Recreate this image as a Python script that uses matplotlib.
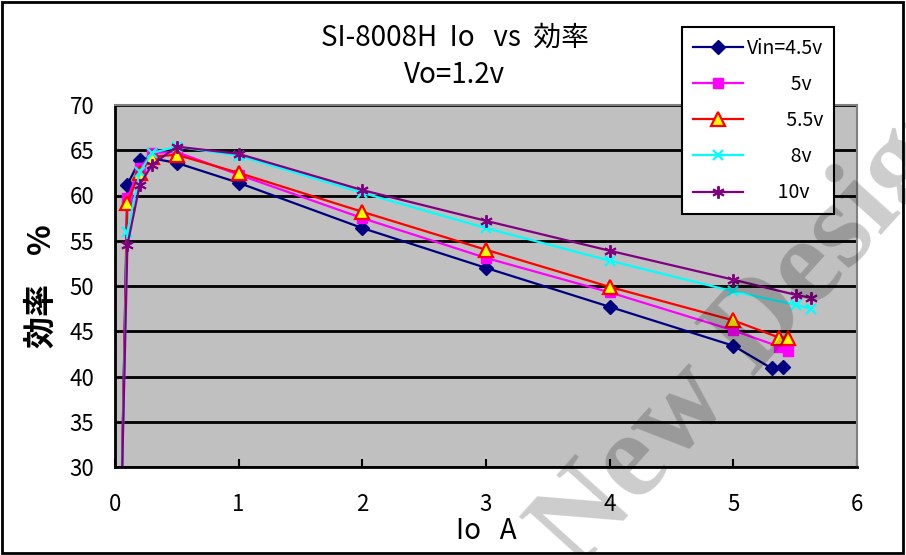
import matplotlib
matplotlib.use("Agg")
import matplotlib.pyplot as plt
from matplotlib.patches import Rectangle

plt.rcParams['font.family'] = ['Noto Sans CJK JP', 'DejaVu Sans']

# --- data ---
io_45 = [0.05, 0.1, 0.2, 0.3, 0.5, 1, 2, 3, 4, 5, 5.31, 5.40]
eff_45 = [25, 61.2, 63.9, 64.1, 63.6, 61.4, 56.4, 52.0, 47.7, 43.4, 40.9, 41.0]

io_5 = [0.05, 0.1, 0.2, 0.3, 0.5, 1, 2, 3, 4, 5, 5.37, 5.44]
eff_5 = [25, 59.7, 63.0, 64.7, 64.8, 62.3, 57.5, 53.1, 49.3, 45.1, 43.3, 42.8]

io_55 = [0.05, 0.1, 0.2, 0.3, 0.5, 1, 2, 3, 4, 5, 5.37, 5.44]
eff_55 = [25, 59.2, 62.5, 64.3, 64.5, 62.5, 58.2, 54.0, 49.9, 46.2, 44.3, 44.3]

io_8 = [0.05, 0.1, 0.2, 0.3, 0.5, 1, 2, 3, 4, 5, 5.51, 5.63]
eff_8 = [25, 56.0, 62.6, 64.7, 65.4, 64.4, 60.3, 56.4, 52.8, 49.4, 47.9, 47.5]

io_10 = [0.05, 0.1, 0.2, 0.3, 0.5, 1, 2, 3, 4, 5, 5.51, 5.63]
eff_10 = [25, 54.5, 61.2, 63.4, 65.4, 64.6, 60.6, 57.2, 53.9, 50.7, 49.0, 48.7]

labels = ['Vin=4.5v', '          5v', '         5.5v', '          8v', '       10v']
x_ticks = [0, 1, 2, 3, 4, 5, 6]
y_ticks = [30, 35, 40, 45, 50, 55, 60, 65, 70]

W, H = 906, 555
fig = plt.figure(figsize=(W / 100, H / 100), dpi=100)
fig.patch.set_facecolor('white')

# plot area in pixels: x 115..857, y 105..467
ax = fig.add_axes([115 / W, 1 - 467 / H, (857 - 115) / W, (467 - 105) / H])
ax.set_facecolor('#C0C0C0')

ax.plot(io_45, eff_45, color='#000080', lw=1.6, marker='D', ms=7,
        mfc='#000080', mec='#000080', label=labels[0])
ax.plot(io_5, eff_5, color='#FF00FF', lw=1.6, marker='s', ms=7.5,
        mfc='#FF00FF', mec='#FF00FF', label=labels[1])
ax.plot(io_55, eff_55, color='#FF0000', lw=1.6, marker='^', ms=10,
        mfc='#FFFF00', mec='#FF0000', mew=1.6, label=labels[2])
ax.plot(io_8, eff_8, color='#00FFFF', lw=1.6, marker='x', ms=7,
        mec='#00FFFF', mew=1.6, label=labels[3])
ax.plot(io_10, eff_10, color='#800080', lw=1.6, marker=(6, 2, 0), ms=9,
        mec='#800080', mew=1.4, label=labels[4])

ax.set_xlim(0, 6)
ax.set_ylim(30, 70)
ax.set_xticks(x_ticks)
ax.set_yticks(y_ticks)
ax.yaxis.grid(True, color='black', lw=2)
ax.set_axisbelow(True)

for s in ['left', 'bottom']:
    ax.spines[s].set_color('black')
    ax.spines[s].set_linewidth(2)
for s in ['top', 'right']:
    ax.spines[s].set_color('#808080')
    ax.spines[s].set_linewidth(1.5)

ax.tick_params(axis='x', direction='in', length=6, width=1.5, pad=19, labelsize=16)
ax.tick_params(axis='y', direction='in', length=0, pad=15, labelsize=16)

ax.set_xlabel('Io   A', fontsize=20, labelpad=0)
ax.set_ylabel('効率    %', fontsize=23, fontweight='bold', labelpad=8)

fig.text(455 / W, 1 - 38 / H, 'SI-8008H  Io   vs  効率', ha='center', va='center', fontsize=20)
fig.text(455 / W, 1 - 75 / H, 'Vo=1.2v', ha='center', va='center', fontsize=20)

leg = ax.legend(loc='upper left', bbox_to_anchor=(682 / W, 1 - 27 / H),
                bbox_transform=fig.transFigure, fontsize=14, frameon=True,
                fancybox=False, framealpha=1, edgecolor='black',
                handlelength=2.6, labelspacing=0.78, borderpad=0.55,
                handletextpad=0.2, borderaxespad=0)
leg.get_frame().set_linewidth(1.5)

# watermark
fig.text(578 / W, 1 - 572 / H, 'New Design', rotation=48, rotation_mode='anchor',
         ha='left', va='baseline', fontsize=88, fontweight='bold',
         family='Liberation Serif', color='black', alpha=0.2, zorder=10)

# outer frame
fig.patches.append(Rectangle((0.002, 0.004), 0.995, 0.993, transform=fig.transFigure,
                             fill=False, ec='black', lw=2))

fig.savefig('out.png', dpi=100)
